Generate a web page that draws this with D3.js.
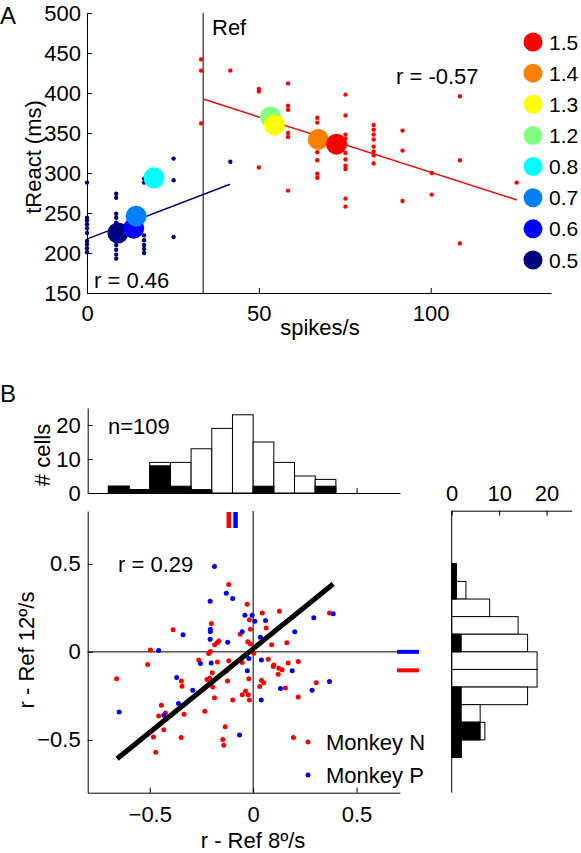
<!DOCTYPE html>
<html><head><meta charset="utf-8">
<script src="https://cdn.jsdelivr.net/npm/d3@7"></script>
<style>body{margin:0;background:#fff}</style>
</head><body>
<svg id="c" width="581" height="853"></svg>
<script>
// ---------------- Panel A data ----------------
const aBlueDots = [
  [0,288],[0,244],[0,241],[0,236],[0,231],[0,225],[0,215],[0,211],[0,206],[0,201],
  [8.5,274],[8.5,269],[8.5,249],[8.5,244],[8.5,238],[8.5,215],[8.5,210],[8.5,204],[8.5,198],[8.5,193],
  [16.6,293],[16.6,288],[16.6,222],[16.6,216],[16.6,210],[16.6,205],[16.6,200],
  [25.2,318],[25.2,291],[25.2,220],
  [41.7,314]
];
const aRedDots = [
  [33.2,442],[33.2,428],[33.2,362],[41.7,428],
  [50,405],[50,402],[50,307],
  [58.5,412],[58.5,384],[58.5,379],[58.5,350],[58.5,345],[58.5,278],
  [67,369],[67,363],[67,348],[67,340],[67,326],[67,316],[67,299],[67,294],
  [75.2,398],[75.2,372],[75.2,348],[75.2,343],[75.2,336],[75.2,325],[75.2,317],[75.2,309],[75.2,305],[75.2,268],[75.2,258],
  [83.4,360],[83.4,354],[83.4,348],[83.4,342],[83.4,333],[83.4,327],[83.4,322],[83.4,312],
  [91.8,353],[91.8,328],[91.8,265],
  [100.3,300],[100.3,273],
  [108.5,396],[108.5,316],[108.5,212],
  [125,288]
];
const aBlueFit = [[0.3,218],[41.6,286]];
const aRedFit = [[33.8,392.4],[125.1,266.3]];
const aRefX = 33.8;
const aLevels = ["0.5","0.6","0.7","0.8","1.2","1.3","1.4","1.5"];
const aLevelColors = ["#000080","#0000ff","#0080ff","#00ffff","#80ff80","#ffff00","#ff8000","#ff0000"];
const aLevelX = [9.0,13.6,14.3,19.5,53.4,54.5,67.3,72.6];
const aLevelY = [225,231,246,294,370,360,342,336];
const aXTicks = [0,50,100];
const aYTicks = [150,200,250,300,350,400,450,500];

// ---------------- Panel B data ----------------
const histTopBinLo = [-0.7,-0.6,-0.5,-0.4,-0.3,-0.2,-0.1,0.0,0.1,0.2,0.3];
const histTopTotal = [2,1,9,9,13,19,23,15,9,5,4];
const histTopBlack = [2,1,8,2,1,0,0,2,0,0,2];
const histRightBinLo = [0.4,0.3,0.2,0.1,0.0,-0.1,-0.2,-0.3,-0.4,-0.5,-0.6];
const histRightTotal = [1,3,8,14,16,18,18,16,6,7,2];
const histRightBlack = [1,1,0,0,2,0,0,2,2,6,2];
const histBinWidth = 0.1;

const monkeyN = [
  [-0.118,0.382],[-0.387,0.125],[-0.202,0.161],[-0.186,0.041],[-0.173,0.053],[-0.166,0.062],
  [-0.497,0.011],[-0.207,0.002],[-0.215,-0.01],[-0.51,-0.072],[-0.263,-0.047],[-0.173,-0.057],
  [-0.029,0.271],[0.044,0.22],[0.127,0.231],[-0.018,0.182],[0.063,0.136],[-0.013,0.129],
  [0.369,0.22],[-0.063,0.1],[0.089,0.04],[0.163,0.051],[-0.026,0.058],[-0.013,0.044],
  [0.003,-0.008],[-0.118,-0.051],[0.073,-0.042],[0.169,-0.064],[0.218,-0.055],[0.1,-0.074],
  [-0.66,-0.153],[-0.347,-0.165],[-0.344,-0.195],[-0.198,-0.119],[-0.21,-0.15],[-0.223,-0.157],
  [-0.129,-0.108],[-0.195,-0.199],[-0.187,-0.26],[-0.444,-0.303],[-0.457,-0.364],[-0.424,-0.348],
  [-0.334,-0.354],[-0.234,-0.337],[-0.432,-0.443],[-0.482,-0.483],[-0.348,-0.487],[-0.135,-0.426],
  [-0.147,-0.498],[-0.142,-0.53],[-0.471,-0.57],[0.097,-0.083],[0.124,-0.093],[0.14,-0.102],
  [0.121,-0.127],[-0.124,-0.165],[-0.021,-0.153],[0.04,-0.161],[0.051,-0.176],[0.032,-0.197],
  [0.156,-0.206],[0.305,-0.176],[0.218,-0.256],[-0.037,-0.222],[-0.053,-0.244],[-0.024,-0.244],
  [-0.099,-0.273],[-0.018,-0.274],[0.195,-0.487],[-0.053,-0.061]
];
const monkeyP = [
  [-0.187,0.485],[-0.13,0.333],[-0.208,0.288],[-0.339,0.097],[-0.207,0.129],[-0.207,0.114],
  [-0.208,0.072],[-0.123,0.055],[-0.457,0.007],[-0.255,-0.066],[-0.203,-0.064],[-0.099,0.303],
  [-0.04,0.208],[-0.005,0.208],[0.008,0.174],[0.06,0.178],[0.293,0.193],[0.387,0.216],
  [-0.053,0.114],[0.035,0.083],[0.201,0.114],[-0.021,-0.038],[0.04,-0.047],[-0.37,-0.146],
  [-0.292,-0.218],[-0.361,-0.294],[-0.432,-0.36],[-0.648,-0.341],[0.189,-0.108],[-0.028,-0.108],
  [0.132,-0.208],[0.369,-0.169],[0.285,-0.218],[0.039,-0.273],[-0.066,-0.472]
];
const bFit = [[-0.658,-0.607],[0.387,0.385]];
const meanX = {N:-0.118, P:-0.085};
const meanY = {N:-0.105, P:0.0};
const bTicks = [-0.5,0,0.5];
const histTopYTicks = [0,10,20];
const histRightXTicks = [0,10,20];

// ---------------- drawing ----------------
const FONT = "'Liberation Sans', Arial, Helvetica, sans-serif";
const FS = 22;
const svg = d3.select("#c");
function styleAxis(g){
  g.attr("font-size",FS).attr("font-family",FONT);
  g.selectAll(".domain").attr("stroke","#000").attr("stroke-width",1);
  g.selectAll(".tick line").attr("stroke","#000");
  g.selectAll("text").attr("fill","#000");
}
function txt(x,y,s,opts={}){
  const t = svg.append("text").attr("x",x).attr("y",y).text(s)
    .attr("font-family",FONT).attr("font-size",opts.fs||FS).attr("fill","#000");
  if(opts.anchor) t.attr("text-anchor",opts.anchor);
  if(opts.rot) t.attr("transform",`rotate(-90,${x},${y})`);
  return t;
}

// Panel A
const ax = d3.scaleLinear().domain([0,135]).range([87,551]);
const ay = d3.scaleLinear().domain([150,500]).range([293,13]);
svg.append("g").attr("transform","translate(0,293)")
  .call(d3.axisBottom(ax).tickValues(aXTicks).tickSizeInner(-5).tickSizeOuter(0).tickPadding(12).tickFormat(d3.format("d")))
  .call(styleAxis);
svg.append("g").attr("transform","translate(87,0)")
  .call(d3.axisLeft(ay).tickValues(aYTicks).tickSizeInner(-5).tickSizeOuter(0).tickPadding(6).tickFormat(d3.format("d")))
  .call(styleAxis);
svg.append("line").attr("x1",ax(aRefX)).attr("x2",ax(aRefX)).attr("y1",ay(500)).attr("y2",ay(150))
  .attr("stroke","#000").attr("stroke-width",1);
const line = d3.line().x(d=>ax(d[0])).y(d=>ay(d[1]));
svg.append("path").attr("d",line(aBlueFit)).attr("stroke","#000080").attr("stroke-width",1.5).attr("fill","none");
svg.append("path").attr("d",line(aRedFit)).attr("stroke","#ff0000").attr("stroke-width",1.5).attr("fill","none");
svg.append("g").selectAll("circle").data(aBlueDots).join("circle")
  .attr("cx",d=>ax(d[0])).attr("cy",d=>ay(d[1])).attr("r",2.2).attr("fill","#000080");
svg.append("g").selectAll("circle").data(aRedDots).join("circle")
  .attr("cx",d=>ax(d[0])).attr("cy",d=>ay(d[1])).attr("r",2.2).attr("fill","#ff0000");
svg.append("g").selectAll("circle").data(aLevels).join("circle")
  .attr("cx",(d,i)=>ax(aLevelX[i])).attr("cy",(d,i)=>ay(aLevelY[i])).attr("r",10.5)
  .attr("fill",(d,i)=>aLevelColors[i]);
// legend A (top = 1.5)
const legA = aLevels.slice().reverse();
const legAcol = aLevelColors.slice().reverse();
const legY = d3.scalePoint().domain(legA).range([42,260]);
svg.append("g").selectAll("circle").data(legA).join("circle")
  .attr("cx",533).attr("cy",d=>legY(d)).attr("r",9.5).attr("fill",(d,i)=>legAcol[i]);
svg.append("g").selectAll("text").data(legA).join("text")
  .attr("x",549).attr("y",d=>legY(d)+7.5).text(d=>d)
  .attr("font-family",FONT).attr("font-size",21);
txt(212,35,"Ref");
txt(396,84,"r = -0.57");
txt(94,288,"r = 0.46");
txt(0,24,"A",{fs:24});
txt(320,335,"spikes/s",{anchor:"middle"});
txt(41,157,"tReact (ms)",{anchor:"middle",rot:true});

// Panel B scales
const bx = d3.scaleLinear().domain([-0.8,0.71]).range([87.7,400]);
const by = d3.scaleLinear().domain([-0.8,0.8]).range([792.7,511]);
const hy = d3.scaleLinear().domain([0,25]).range([493,408]);
const hx = d3.scaleLinear().domain([0,25.3]).range([451.7,571.7]);

// top histogram
const gT = svg.append("g");
gT.selectAll("rect.tot").data(histTopBinLo).join("rect").attr("class","tot")
  .attr("x",d=>bx(d)).attr("width",d=>bx(d+histBinWidth)-bx(d))
  .attr("y",(d,i)=>hy(histTopTotal[i])).attr("height",(d,i)=>hy(0)-hy(histTopTotal[i]))
  .attr("fill","#fff").attr("stroke","#000").attr("stroke-width",1);
gT.selectAll("rect.blk").data(histTopBinLo).join("rect").attr("class","blk")
  .attr("x",d=>bx(d)).attr("width",d=>bx(d+histBinWidth)-bx(d))
  .attr("y",(d,i)=>hy(histTopBlack[i])).attr("height",(d,i)=>hy(0)-hy(histTopBlack[i]))
  .attr("fill","#000").attr("stroke","#000").attr("stroke-width",1);
svg.append("g").attr("transform","translate(0,493)")
  .call(d3.axisBottom(bx).tickValues(bTicks).tickSizeInner(-5).tickSizeOuter(0).tickFormat(""))
  .call(styleAxis);
svg.append("g").attr("transform","translate(87.7,0)")
  .call(d3.axisLeft(hy).tickValues(histTopYTicks).tickSizeInner(-5).tickSizeOuter(0).tickPadding(7))
  .call(styleAxis);
txt(108,434,"n=109");
txt(50,455,"# cells",{anchor:"middle",rot:true});
txt(0,402,"B",{fs:24});

// scatter
svg.append("line").attr("x1",bx(-0.8)).attr("x2",bx(0.71)).attr("y1",by(0)).attr("y2",by(0))
  .attr("stroke","#000").attr("stroke-width",1);
svg.append("line").attr("x1",bx(0)).attr("x2",bx(0)).attr("y1",by(0.8)).attr("y2",by(-0.8))
  .attr("stroke","#000").attr("stroke-width",1);
svg.append("g").attr("transform","translate(0,792.7)")
  .call(d3.axisBottom(bx).tickValues(bTicks).tickSizeInner(-5).tickSizeOuter(0).tickPadding(14).tickFormat(d=>d===0?"0":d3.format(".1f")(d)))
  .call(styleAxis);
svg.append("g").attr("transform","translate(87.7,0)")
  .call(d3.axisLeft(by).tickValues(bTicks).tickSizeInner(-5).tickSizeOuter(0).tickPadding(7).tickFormat(d=>d===0?"0":d3.format(".1f")(d)))
  .call(styleAxis);
svg.append("g").selectAll("circle").data(monkeyN).join("circle")
  .attr("cx",d=>bx(d[0])).attr("cy",d=>by(d[1])).attr("r",2.5).attr("fill","#ff0000");
svg.append("g").selectAll("circle").data(monkeyP).join("circle")
  .attr("cx",d=>bx(d[0])).attr("cy",d=>by(d[1])).attr("r",2.5).attr("fill","#0000ff");
svg.append("path").attr("d",d3.line().x(d=>bx(d[0])).y(d=>by(d[1]))(bFit))
  .attr("stroke","#000").attr("stroke-width",5).attr("fill","none");
// mean markers
svg.append("line").attr("x1",bx(meanX.N)).attr("x2",bx(meanX.N)).attr("y1",512).attr("y2",528)
  .attr("stroke","#ff0000").attr("stroke-width",4.5);
svg.append("line").attr("x1",bx(meanX.P)).attr("x2",bx(meanX.P)).attr("y1",512).attr("y2",528)
  .attr("stroke","#0000ff").attr("stroke-width",4.5);
svg.append("line").attr("x1",397).attr("x2",419).attr("y1",by(meanY.P)).attr("y2",by(meanY.P))
  .attr("stroke","#0000ff").attr("stroke-width",4);
svg.append("line").attr("x1",397).attr("x2",419).attr("y1",by(meanY.N)).attr("y2",by(meanY.N))
  .attr("stroke","#ff0000").attr("stroke-width",4);
txt(118,572,"r = 0.29");
// legend B
svg.append("circle").attr("cx",308).attr("cy",742).attr("r",2.5).attr("fill","#ff0000");
svg.append("circle").attr("cx",308).attr("cy",775).attr("r",2.5).attr("fill","#0000ff");
txt(326,750,"Monkey N");
txt(326,783,"Monkey P");
txt(253,848,"r - Ref 8º/s",{anchor:"middle"});
txt(34,650,"r - Ref 12º/s",{anchor:"middle",rot:true});

// right histogram
const gR = svg.append("g");
gR.selectAll("rect.tot").data(histRightBinLo).join("rect").attr("class","tot")
  .attr("y",d=>by(d+histBinWidth)).attr("height",d=>by(d)-by(d+histBinWidth))
  .attr("x",hx(0)).attr("width",(d,i)=>hx(histRightTotal[i])-hx(0))
  .attr("fill","#fff").attr("stroke","#000").attr("stroke-width",1);
gR.selectAll("rect.blk").data(histRightBinLo).join("rect").attr("class","blk")
  .attr("y",d=>by(d+histBinWidth)).attr("height",d=>by(d)-by(d+histBinWidth))
  .attr("x",hx(0)).attr("width",(d,i)=>hx(histRightBlack[i])-hx(0))
  .attr("fill","#000").attr("stroke","#000").attr("stroke-width",1);
svg.append("g").attr("transform","translate(0,510.7)")
  .call(d3.axisTop(hx).tickValues(histRightXTicks).tickSizeInner(-5).tickSizeOuter(0).tickPadding(10))
  .call(styleAxis);
svg.append("line").attr("x1",hx(0)).attr("x2",hx(0)).attr("y1",510.7).attr("y2",792.7)
  .attr("stroke","#000").attr("stroke-width",1);
</script>
</body></html>
